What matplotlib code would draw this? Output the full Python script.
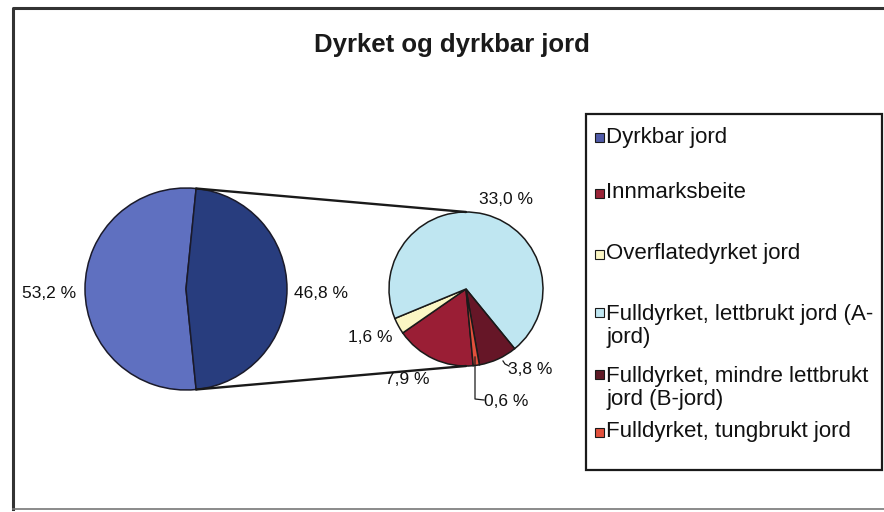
import math
import matplotlib
matplotlib.use("Agg")
import matplotlib.pyplot as plt
from matplotlib.patches import Rectangle

plt.rcParams['font.family'] = ['Liberation Sans', 'DejaVu Sans']

# ---------------- data ----------------
title = "Dyrket og dyrkbar jord"
main_labels = ["Dyrkbar jord", "Dyrket jord"]
main_values = [53.2, 46.8]
main_colors = ["#5F70C0", "#283D7E"]

sub_labels = ["Innmarksbeite", "Overflatedyrket jord",
              "Fulldyrket, lettbrukt jord (A-jord)",
              "Fulldyrket, mindre lettbrukt jord (B-jord)",
              "Fulldyrket, tungbrukt jord"]
sub_values = [7.9, 1.6, 33.0, 3.8, 0.6]
sub_colors = ["#9A1E35", "#FBF6C4", "#BFE6F1", "#661627", "#E2503C"]

legend_labels = ["Dyrkbar jord", "Innmarksbeite", "Overflatedyrket jord",
                 "Fulldyrket, lettbrukt jord (A-\njord)",
                 "Fulldyrket, mindre lettbrukt\njord (B-jord)",
                 "Fulldyrket, tungbrukt jord"]
legend_colors = ["#4F5AA8", "#9A2438", "#FBF6C4", "#BFE6F1", "#5E1A26", "#E2503C"]

W, H = 884, 512
fig = plt.figure(figsize=(W / 100, H / 100), dpi=100)
ax = fig.add_axes([0, 0, 1, 1])

def Y(y):
    return H - y

def fmt(v):
    return f"{v:.1f}".replace(".", ",") + " %"

# main pie (the "other" slice centred on the right)
mc = (186, Y(289)); mr = 101
half = main_values[1] / 100 * 180
ax.pie(main_values, colors=main_colors, center=mc, radius=mr,
       startangle=half, counterclock=True,
       wedgeprops=dict(edgecolor="#1a1a2a", linewidth=1.1))

# secondary pie
sc = (466, Y(289)); sr = 77
ax.pie(sub_values, colors=sub_colors, center=sc, radius=sr,
       startangle=275.4, counterclock=False,
       wedgeprops=dict(edgecolor="#1a1a1a", linewidth=1.1))

# connector lines
for sgn in (1, -1):
    a = math.radians(half * sgn)
    x0 = mc[0] + mr * math.cos(a)
    y0 = mc[1] + mr * math.sin(a)
    ax.plot([x0, sc[0]], [y0, sc[1] + sgn * sr], color="#1a1a1a", lw=1.7,
            solid_capstyle="round")

lab_kw = dict(fontsize=12.5, color="#111111", ha="center", va="center")
ax.text(49, Y(294), fmt(main_values[0]), **lab_kw)
ax.text(321, Y(294), fmt(main_values[1]), **lab_kw)
ax.text(506, Y(200), fmt(sub_values[2]), **lab_kw)
ax.text(370, Y(338), fmt(sub_values[1]), **lab_kw)
ax.text(407, Y(379), fmt(sub_values[0]), **lab_kw)
ax.text(530, Y(369), fmt(sub_values[3]), **lab_kw)
ax.text(506, Y(401), fmt(sub_values[4]), **lab_kw)
# leader lines
ax.plot([503, 505, 509], [Y(361), Y(364), Y(366)], color="#1a1a1a", lw=0.9)
ax.plot([475, 475, 484], [Y(357), Y(399), Y(400)], color="#1a1a1a", lw=0.9)

# title
ax.text(452, Y(52), title, fontsize=18.5, fontweight="bold", ha="center",
        va="baseline", color="#1a1a1a")

# legend box
ax.add_patch(Rectangle((586, Y(470)), 296, 356, facecolor="white",
                       edgecolor="#1a1a1a", lw=1.6, zorder=3))
leg_y = [137, 193, 254, 326, 388, 432]
for lab, col, yy in zip(legend_labels, legend_colors, leg_y):
    nlines = lab.count("\n") + 1
    ytop = yy - (nlines - 1) * 14
    ax.add_patch(Rectangle((595, Y(ytop) - 4.5), 9, 9, facecolor=col,
                           edgecolor="#1a1a1a", lw=0.8, zorder=4))
    ax.text(606, Y(yy), lab, fontsize=16, color="#111111", ha="left",
            va="center", linespacing=1.15, zorder=5)

# outer chart border
ax.plot([13, 13, 884], [Y(509), Y(8), Y(8)], color="#333333", lw=2.2)
ax.plot([13, 884], [Y(509), Y(509)], color="#777777", lw=1.2)

ax.set_xlim(0, W)
ax.set_ylim(0, H)
ax.set_aspect("equal")
ax.axis("off")

fig.savefig("out.png", dpi=100, facecolor="white")
